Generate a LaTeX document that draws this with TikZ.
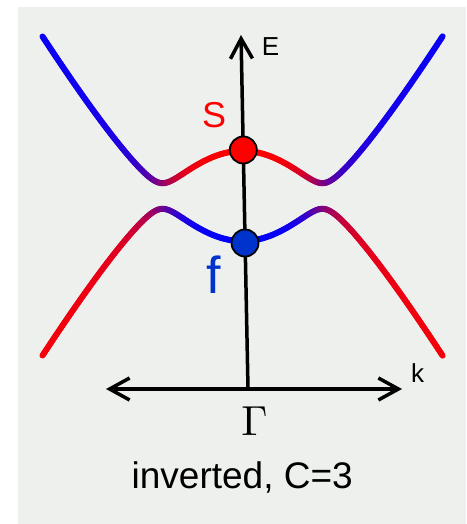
\documentclass[tikz,border=0pt]{standalone}
\usepackage{fontspec}
\setmainfont{Liberation Sans}
\usetikzlibrary{arrows.meta}
\definecolor{bgc}{RGB}{238,240,237}
\definecolor{sred}{RGB}{255,0,0}
\definecolor{fblue}{RGB}{0,0,255}
\definecolor{dotblue}{RGB}{0,51,204}
\begin{document}
\begin{tikzpicture}[x=1pt,y=-1pt,
  band/.style={line width=6pt,line cap=round},
  barb/.tip={Straight Barb[length=20pt,width=22pt]},
  axisline/.style={line width=3.5pt,line cap=round},
  dot/.style={circle,draw=black,line width=1.8pt,minimum size=27pt,inner sep=0pt},
  lab/.style={inner sep=0pt,anchor=base}]
\useasboundingbox (0,0) rectangle (466,524);
\fill[bgc] (18,7) rectangle (466,524);
% bands
\foreach \i in {0,...,199}{
  \pgfmathsetmacro\bua{-2+0.02*\i}
  \pgfmathsetmacro\bub{\bua+0.02}
  \pgfmathsetmacro\bum{\bua+0.01}
  \pgfmathsetmacro\bma{1.77*(1.443-sqrt(\bua*\bua+1.4113))}
  \pgfmathsetmacro\bmb{1.77*(1.443-sqrt(\bub*\bub+1.4113))}
  \pgfmathsetmacro\bmm{1.77*(1.443-sqrt(\bum*\bum+1.4113))}
  \pgfmathsetmacro\bfa{sqrt(\bma*\bma+0.02512*\bua*\bua)}
  \pgfmathsetmacro\bfb{sqrt(\bmb*\bmb+0.02512*\bub*\bub)}
  \pgfmathsetmacro\bfc{sqrt(\bmm*\bmm+0.12*\bum*\bum)}
  \pgfmathsetmacro\rUp{50*(1+\bmm/\bfc)}
  \pgfmathsetmacro\rLo{100-\rUp}
  \draw[band,color=sred!\rUp!fblue] (242.5+100*\bua,196-100*\bfa) -- (242.5+100*\bub,196-100*\bfb);
  \draw[band,color=sred!\rLo!fblue] (242.5+100*\bua,196+100*\bfa) -- (242.5+100*\bub,196+100*\bfb);
}
% axes
\coordinate (O) at (248,389);
\coordinate (Etop) at (241,35);
\coordinate (kL) at (106,389);
\coordinate (kR) at (402,389);
\draw[axisline,-barb] (O) -- (Etop);
\draw[axisline,barb-barb] (kL) -- (kR);
% dots
\node[dot,fill=sred] (sdot) at (243.3,150) {};
\node[dot,fill=dotblue] (fdot) at (245,243) {};
% labels
\node[lab,font=\fontsize{36}{40}\selectfont,text=sred] (slab) at (214.2,127) {S};
\node[lab,font=\fontsize{52}{56}\selectfont,text=dotblue] (flab) at (213.5,293) {f};
\node[lab,font=\fontsize{26}{30}\selectfont] (elab) at (270.5,56) {E};
\node[lab,font=\fontsize{26}{30}\selectfont] (klab) at (417.5,382) {k};
\node[lab,scale=4.2] (glab) at (254.5,435.5) {$\Gamma$};
\node[lab,font=\fontsize{37}{40}\selectfont] (cap) at (242.2,488) {inverted, C=3};
\end{tikzpicture}
\end{document}
